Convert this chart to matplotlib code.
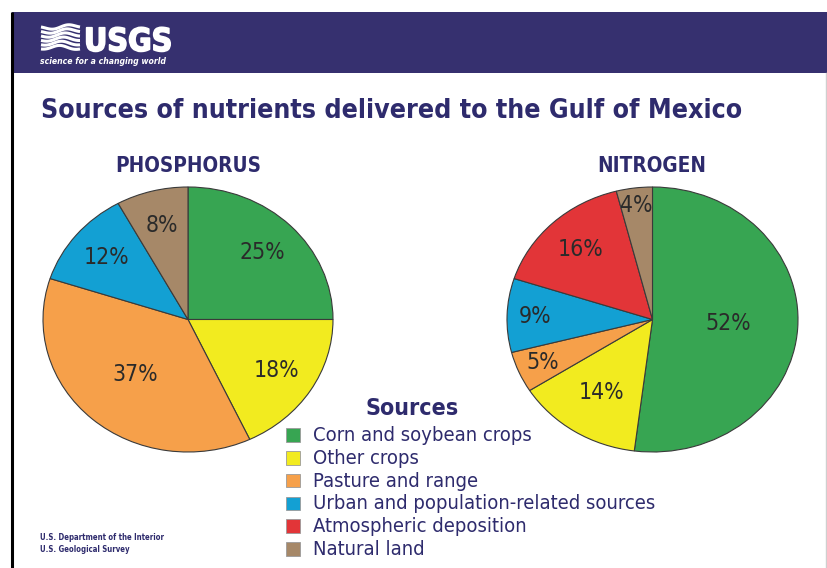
import numpy as np
import matplotlib
matplotlib.use("Agg")
import matplotlib.pyplot as plt
import matplotlib.patches as patches
import matplotlib.patheffects as pe
from matplotlib import font_manager as fm

# data
sources = ["Corn and soybean crops", "Other crops", "Pasture and range",
           "Urban and population-related sources", "Atmospheric deposition",
           "Natural land"]
colors = ["#37a552", "#f2eb1f", "#f6a04a", "#13a0d3", "#e23538", "#a68868"]

phos_values = [25, 18, 37, 12, 0, 8]
nitro_values = [52, 14, 5, 9, 16, 4]

# label distance from centre, per slice (fraction of radius)
phos_label_r = [0.72, 0.72, 0.55, 0.73, 0.7, 0.73]
nitro_label_r = [0.52, 0.65, 0.82, 0.81, 0.72, 0.87]

W, H = 828, 568
navy = "#2e2b6d"
band = "#36306f"

names = {f.name for f in fm.fontManager.ttflist}
if "Liberation Sans Narrow" in names:
    fam = "Liberation Sans Narrow"
    stretch = "normal"
else:
    fam = "DejaVu Sans"
    stretch = "condensed"


def fp(size, weight="normal", style="normal"):
    return fm.FontProperties(family=fam, size=size, weight=weight,
                             style=style, stretch=stretch)


fig = plt.figure(figsize=(W / 100, H / 100), dpi=100)
fig.patch.set_facecolor("white")

# background axes in pixel coordinates for the decoration
bg = fig.add_axes([0, 0, 1, 1])
bg.set_xlim(0, W)
bg.set_ylim(H, 0)
bg.axis("off")

bg.add_patch(patches.Rectangle((12, 12), W - 12, 61, facecolor=band, edgecolor="none"))
bg.plot([12.5, 12.5], [12, H], color="black", lw=2.2, solid_capstyle="butt")
bg.plot([826.5, 826.5], [73, H], color="#cfcfcf", lw=1)

# USGS logo: wave mark + letters
xs = np.linspace(41, 80, 80)
for k in range(6):
    y0 = 27 + k * 4.2
    amp = 1.0 + 1.6 * np.sin(np.pi * (xs - 41) / 39)
    ys = y0 + amp * np.sin((xs - 41) / 39 * 2 * np.pi + k * 0.35)
    bg.plot(xs, ys, color="white", lw=2.2, solid_capstyle="butt")
bg.text(84, 51, "USGS", fontproperties=fp(23, "bold"), color="white", va="baseline",
        path_effects=[pe.withStroke(linewidth=1.2, foreground="white")])
bg.text(40, 64.5, "science for a changing world", fontproperties=fp(6.2, "bold", "italic"),
        color="white", va="baseline")

bg.text(41, 118.5, "Sources of nutrients delivered to the Gulf of Mexico",
        fontproperties=fp(19.2, "bold"), color=navy, va="baseline")

bg.text(188, 171.5, "PHOSPHORUS", fontproperties=fp(14.9, "bold"), color=navy,
        ha="center", va="baseline")
bg.text(652, 171.5, "NITROGEN", fontproperties=fp(14.9, "bold"), color=navy,
        ha="center", va="baseline")


def draw_pie(x0, y0, x1, y1, values, label_r):
    pad = 1.015
    cx, cy = (x0 + x1) / 2, (y0 + y1) / 2
    rx, ry = (x1 - x0) / 2 * pad, (y1 - y0) / 2 * pad
    ax = fig.add_axes([(cx - rx) / W, 1 - (cy + ry) / H, 2 * rx / W, 2 * ry / H])
    wedges, _ = ax.pie(values, colors=colors, startangle=90, counterclock=False,
                       wedgeprops=dict(edgecolor="#3a3a3a", linewidth=0.8))
    ax.set_aspect("auto")
    ax.set_xlim(-pad, pad)
    ax.set_ylim(-pad, pad)
    for w, v, r in zip(wedges, values, label_r):
        if v == 0:
            w.set_visible(False)
            continue
        ang = np.deg2rad((w.theta1 + w.theta2) / 2)
        ax.text(r * np.cos(ang), r * np.sin(ang), f"{v}%", fontproperties=fp(16.5),
                color="#2a2a2a", ha="center", va="center")


draw_pie(43, 187, 333, 452, phos_values, phos_label_r)
draw_pie(507, 187, 798, 452, nitro_values, nitro_label_r)

# legend
bg.text(412, 415, "Sources", fontproperties=fp(16.7, "bold"), color=navy,
        ha="center", va="baseline")
for i, (name, col) in enumerate(zip(sources, colors)):
    y = 435 + i * 22.8
    bg.add_patch(patches.Rectangle((286.5, y - 6.8), 14, 13.6, facecolor=col,
                                   edgecolor="#9a9a9a", lw=0.6))
    bg.text(313, y + 0.5, name, fontproperties=fp(14.5), color=navy,
            ha="left", va="center")

bg.text(40, 540, "U.S. Department of the Interior", fontproperties=fp(5.6, "bold"),
        color=navy, va="baseline")
bg.text(40, 552, "U.S. Geological Survey", fontproperties=fp(5.6, "bold"),
        color=navy, va="baseline")

fig.savefig("out.png", dpi=100)
